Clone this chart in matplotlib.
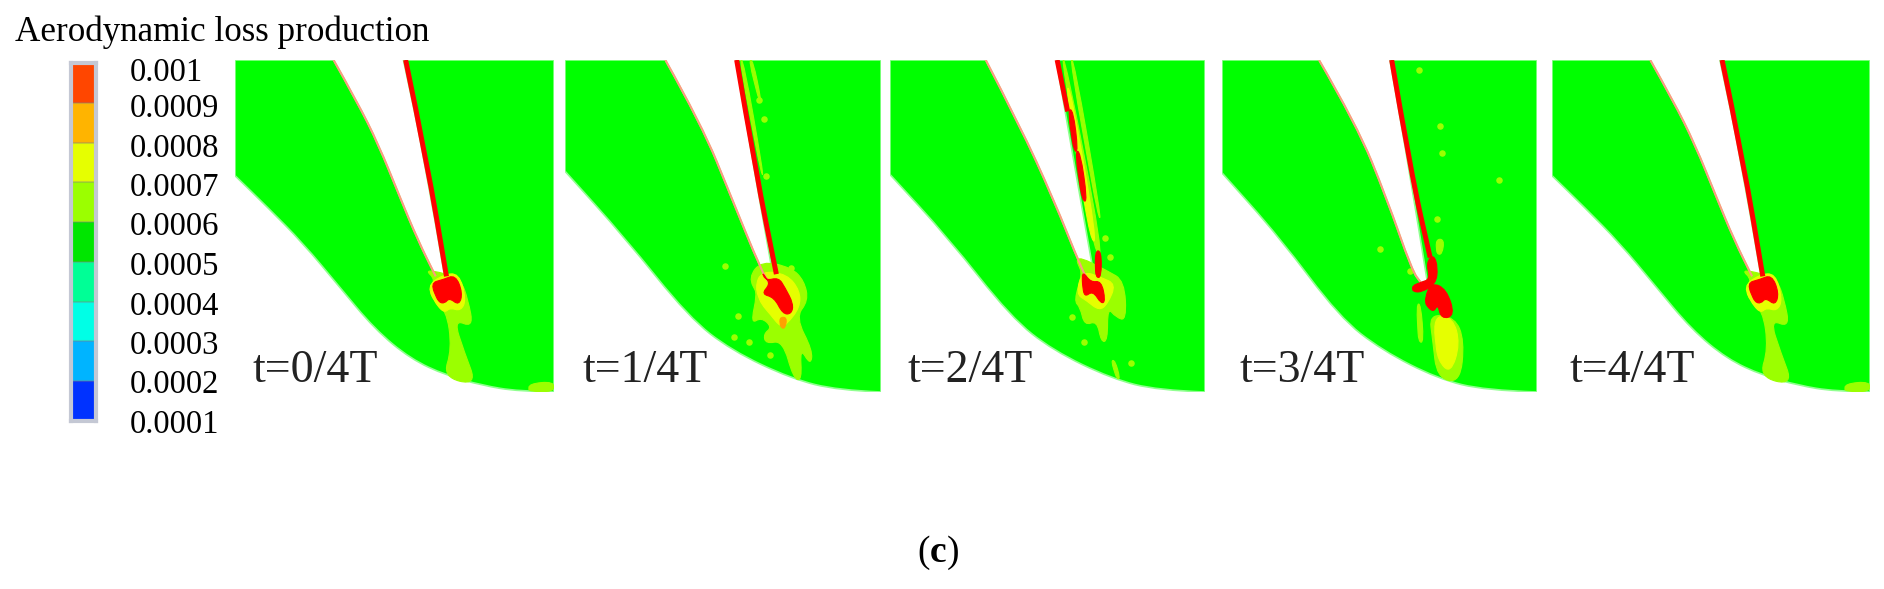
import matplotlib
matplotlib.use("Agg")
import matplotlib.pyplot as plt
from matplotlib.colors import ListedColormap, BoundaryNorm
from matplotlib.path import Path
from matplotlib.patches import PathPatch
import numpy as np

plt.rcParams['font.family'] = ['Liberation Serif', 'DejaVu Serif']
plt.rcParams['mathtext.fontset'] = 'custom'
plt.rcParams['mathtext.bf'] = 'Liberation Serif:bold'
plt.rcParams['mathtext.rm'] = 'Liberation Serif'

W, H = 1884, 589

# colour scale
levels = [0.0001, 0.0002, 0.0003, 0.0004, 0.0005, 0.0006, 0.0007, 0.0008, 0.0009, 0.001]
level_labels = ['0.0001', '0.0002', '0.0003', '0.0004', '0.0005', '0.0006', '0.0007', '0.0008', '0.0009', '0.001']
level_colors = ['#0032ff', '#00b4ff', '#00ffe6', '#00ff96', '#00e600', '#9bff00', '#e6ff00', '#ffb400', '#ff4600']

RED = '#ff0000'
LIME = '#9bff00'
YEL = '#e6ff00'
ORG = '#ffa000'
GREEN = '#00ff00'

# panel placement in the figure, pixels: left, right
panel_x = [(235, 554), (565, 881), (890, 1205), (1222, 1537), (1552, 1870)]
panel_top, panel_bottom = 60, 392
panel_labels = ['t=0/4T', 't=1/4T', 't=2/4T', 't=3/4T', 't=4/4T']

box0 = (660, 1550, 175, 1180)
left0 = [(935, 175), (1000, 300), (1060, 430), (1120, 590), (1170, 720), (1220, 830)]
right0 = [(1245, 830), (1190, 480), (1130, 175)]
lower0 = [(1550, 1180), (1450, 1178), (1350, 1160), (1250, 1130), (1150, 1080), (1050, 990),
          (950, 860), (850, 730), (750, 620), (660, 525)]
red_line0 = [(1136, 175), (1195, 480), (1250, 830)]
lime0 = [[(1190, 810), (1220, 840), (1200, 890), (1250, 930), (1265, 1050), (1240, 1135), (1335, 1160),
          (1300, 1060), (1270, 960), (1325, 985), (1310, 900), (1290, 840), (1240, 820)],
         [(1480, 1155), (1550, 1148), (1550, 1180), (1480, 1178)]]
yellow0 = [[(1195, 860), (1240, 825), (1285, 820), (1305, 900), (1290, 935), (1260, 925), (1245, 940), (1225, 920)]]
red0 = [[(1205, 850), (1240, 840), (1275, 825), (1295, 880), (1285, 918), (1258, 895), (1245, 912), (1228, 908)]]

box1 = (10, 750, 55, 1055)
left1 = [(245, 55), (330, 250), (400, 470), (470, 690), (490, 730)]
right1 = [(500, 725), (455, 400), (410, 55)]
lower1 = [(750, 1055), (650, 1050), (540, 1015), (400, 930), (300, 830), (150, 590), (10, 390)]
red_line1 = [(412, 55), (458, 400), (505, 700)]
lime1 = [[(440, 710), (470, 660), (540, 680), (570, 720), (580, 780), (550, 830), (590, 930), (585, 975),
          (560, 920), (565, 1020), (545, 1015), (520, 900), (480, 910), (475, 880), (495, 860), (470, 830),
          (445, 850), (460, 760)],
         [(418, 55), (428, 55), (475, 400), (470, 400)],
         [(440, 55), (450, 55), (470, 180), (465, 180)]]
yellow1 = [[(455, 740), (470, 690), (530, 700), (560, 750), (560, 800), (530, 850), (515, 860), (490, 820), (470, 790)]]
red1 = [[(470, 690), (480, 720), (510, 710), (525, 740), (545, 790), (540, 820), (520, 820), (500, 770),
         (470, 760), (490, 730)]]
orange1 = [[(512, 830), (530, 830), (525, 865), (515, 860)]]
spots1_x = [385, 415, 440, 490, 405, 475, 480, 540, 465]
spots1_y = [675, 825, 905, 945, 890, 232, 405, 682, 175]

box2 = (782, 1532, 55, 1055)
left2 = [(1010, 55), (1090, 250), (1170, 470), (1240, 690), (1255, 720)]
right2 = [(1270, 720), (1225, 400), (1178, 55)]
lower2 = [(1532, 1055), (1420, 1050), (1310, 1015), (1170, 930), (1070, 830), (920, 590), (782, 400)]
red_line2 = [(1180, 55), (1205, 210)]
lime2 = [[(1220, 640), (1300, 690), (1340, 720), (1345, 840), (1320, 830), (1300, 800), (1300, 900), (1285, 905),
          (1275, 840), (1245, 855), (1235, 800), (1220, 780), (1240, 700)],
         [(1190, 55), (1200, 55), (1290, 640), (1270, 640)],
         [(1210, 55), (1220, 55), (1285, 530), (1278, 530)],
         [(1308, 960), (1318, 960), (1330, 1015), (1322, 1015)]]
yellow2 = [[(1225, 760), (1240, 690), (1285, 710), (1320, 730), (1300, 790), (1280, 810), (1250, 780)],
           [(1200, 140), (1212, 140), (1275, 600), (1260, 600)]]
red2 = [[(1240, 690), (1260, 725), (1285, 720), (1295, 780), (1285, 790), (1265, 750), (1245, 770), (1240, 730)],
        [(1205, 205), (1218, 205), (1230, 330), (1220, 330)],
        [(1222, 330), (1235, 330), (1252, 480), (1240, 480)],
        [(1270, 630), (1285, 630), (1285, 710), (1272, 710)]]
spots2_x = [1245, 1355, 1295, 1215, 1305]
spots2_y = [905, 968, 590, 830, 648]

box3 = (25, 762, 55, 1055)
left3 = [(252, 55), (340, 250), (410, 470), (470, 690), (490, 725)]
right3 = [(505, 720), (465, 400), (418, 55)]
lower3 = [(762, 1055), (640, 1050), (530, 1015), (400, 930), (300, 830), (160, 590), (25, 395)]
red_line3 = [(422, 55), (468, 400), (512, 650)]
lime3 = [[(480, 790), (490, 790), (497, 905), (485, 905)],
         [(510, 820), (570, 830), (592, 900), (582, 1028), (528, 1012), (518, 900)],
         [(525, 595), (545, 595), (540, 640), (528, 640)]]
yellow3 = [[(518, 825), (565, 830), (582, 910), (560, 1000), (530, 960)]]
red3 = [[(500, 770), (515, 725), (550, 745), (570, 825), (538, 835), (530, 790), (520, 815), (503, 795)],
        [(470, 735), (490, 725), (512, 715), (503, 665), (520, 640), (530, 680), (525, 730), (490, 755), (472, 752)]]
spots3_x = [535, 540, 672, 527, 395, 485, 465]
spots3_y = [255, 335, 415, 533, 625, 85, 690]

panels = [
    (box0, left0, right0, lower0, red_line0, lime0, yellow0, red0, [], [], []),
    (box1, left1, right1, lower1, red_line1, lime1, yellow1, red1, orange1, spots1_x, spots1_y),
    (box2, left2, right2, lower2, red_line2, lime2, yellow2, red2, [], spots2_x, spots2_y),
    (box3, left3, right3, lower3, red_line3, lime3, yellow3, red3, [], spots3_x, spots3_y),
    (box0, left0, right0, lower0, red_line0, lime0, yellow0, red0, [], [], []),
]


def px_axes(fig, x0, x1, y0, y1):
    return fig.add_axes([x0 / W, 1 - y1 / H, (x1 - x0) / W, (y1 - y0) / H])


def curve_segs(pts, start=Path.MOVETO):
    # quadratic pieces through the midpoints, keeps both end points
    verts = [pts[0]]
    codes = [start]
    for i in range(1, len(pts) - 1):
        mid = ((pts[i][0] + pts[i + 1][0]) / 2, (pts[i][1] + pts[i + 1][1]) / 2)
        verts += [pts[i], mid]
        codes += [Path.CURVE3, Path.CURVE3]
    verts.append(pts[-1])
    codes.append(Path.LINETO)
    return verts, codes


def blob_path(pts):
    # closed version of the same thing
    first = ((pts[-1][0] + pts[0][0]) / 2, (pts[-1][1] + pts[0][1]) / 2)
    verts, codes = curve_segs([first] + list(pts) + [first])
    return Path(verts, codes)


def draw_panel(ax, box, left, right, lower, red_line, lime, yellow, red, orange, sx, sy, label):
    x0, x1, y0, y1 = box
    ax.set_xlim(x0, x1)
    ax.set_ylim(y1, y0)
    ax.axis('off')

    v1, c1 = curve_segs(left, Path.LINETO)
    v2, c2 = curve_segs(right, Path.LINETO)
    v3, c3 = curve_segs(lower, Path.LINETO)
    verts = [(x0, y0)] + v1 + v2 + [(x1, y0)] + v3 + [(x0, y0)]
    codes = [Path.MOVETO] + c1 + c2 + [Path.LINETO] + c3 + [Path.CLOSEPOLY]
    ax.add_patch(PathPatch(Path(verts, codes), fc=GREEN, ec='#90ff90', lw=1.2, zorder=1))

    # pale pressure side edge
    v, c = curve_segs(left)
    ax.add_patch(PathPatch(Path(v, c), fc='none', ec='#ff9a80', lw=1.5, zorder=5))
    ax.scatter(sx, sy, s=22, color=LIME, lw=0, zorder=2)
    for shapes, col, z in ((lime, LIME, 2), (yellow, YEL, 3), (orange, ORG, 4), (red, RED, 5)):
        for s in shapes:
            ax.add_patch(PathPatch(blob_path(s), fc=col, ec=col, lw=0.8, zorder=z))
    v, c = curve_segs(red_line)
    ax.add_patch(PathPatch(Path(v, c), fc='none', ec=RED, lw=3.6, capstyle='butt', zorder=6))
    ax.text(0.055, 0.065, label, transform=ax.transAxes, fontsize=33, color='#222222',
            ha='left', va='center', zorder=8)


fig = plt.figure(figsize=(W / 100, H / 100), dpi=100)
fig.patch.set_facecolor('white')

cax = px_axes(fig, 71, 96, 63, 421)
cmap = ListedColormap(level_colors)
norm = BoundaryNorm(levels, cmap.N)
cax.pcolormesh([0, 1], levels, np.array(levels[:-1]).reshape(-1, 1) + 0.00005, cmap=cmap, norm=norm)
for s in cax.spines.values():
    s.set_color('#c4c8d4')
    s.set_linewidth(3)
cax.set_xticks([])
# labels run a little tighter than the cells in the original
tick_pos = [0.0001, 0.000199, 0.000298, 0.000397, 0.000497, 0.000596, 0.000695, 0.000794, 0.000893, 0.000985]
cax.yaxis.tick_right()
cax.set_yticks(tick_pos, labels=level_labels)
cax.tick_params(axis='y', length=0, pad=24, labelsize=23.5)
for lv in levels[1:-1]:
    cax.axhline(lv, color='#808080', lw=1.5, alpha=0.35)

fig.text(15 / W, 1 - 32 / H, 'Aerodynamic loss production', fontsize=25.2, ha='left', va='center')

for (xa, xb), p, lab in zip(panel_x, panels, panel_labels):
    ax = px_axes(fig, xa, xb, panel_top, panel_bottom)
    draw_panel(ax, *p, lab)

fig.text(938 / W, 1 - 553 / H, r'($\mathbf{c}$)', fontsize=27, ha='center', va='center')

fig.savefig('out.png', dpi=100)
